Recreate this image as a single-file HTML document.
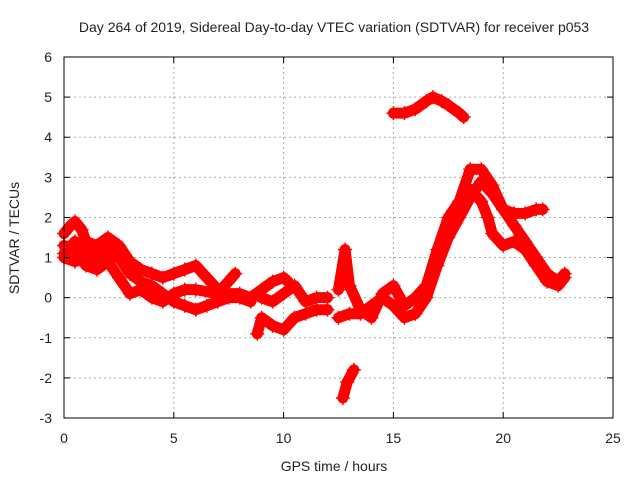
<!DOCTYPE html>
<html><head><meta charset="utf-8"><style>
body{margin:0;background:#fff}
svg text{font-family:"Liberation Sans",sans-serif;font-size:14px;fill:#222}
</style></head><body>
<svg id="chart" width="640" height="480" xmlns="http://www.w3.org/2000/svg">
<rect width="640" height="480" fill="#fff"/>
<text x="334" y="32" text-anchor="middle">Day 264 of 2019, Sidereal Day-to-day VTEC variation (SDTVAR) for receiver p053</text>
<g id="grid"></g>
<g id="series"></g>
<rect x="64" y="57" width="549" height="361" fill="none" stroke="#000" stroke-width="1"/>
<g id="ticks"></g>
<text x="334" y="471" text-anchor="middle">GPS time / hours</text>
<text transform="translate(19,238) rotate(-90)" text-anchor="middle">SDTVAR / TECUs</text>
</svg>
<script>
const xTicks=[0,5,10,15,20,25];
const yTicks=[-3,-2,-1,0,1,2,3,4,5,6];
const trackA_x=[0,0.3,0.5,0.8,1,1.5,2,2.5,3,3.5,4,4.5,5,5.5,6,6.5,7,7.5,8,8.5,9,9.5,10,10.2];
const trackA_y=[1.6,1.8,1.9,1.7,1.4,1.3,1.5,1.3,0.9,0.7,0.6,0.5,0.6,0.7,0.8,0.5,0.2,0.1,0.1,0,0.2,0.4,0.5,0.4];
const trackB_x=[0,0.5,1,1.5,2,2.5,3,3.5,4,4.5,5,5.5,6,6.5,7,7.5,8,8.5];
const trackB_y=[1.0,0.9,1.0,0.9,1.1,1.0,0.6,0.4,0.3,0.1,-0.1,-0.2,-0.3,-0.2,-0.1,0,0,-0.1];
const trackC_x=[0,0.5,1,1.5,2,2.5,3,3.5,4,4.5,5,5.5,6,7,7.8];
const trackC_y=[1.3,1.2,0.8,0.7,0.9,0.5,0.1,0.2,0.0,-0.1,0.1,0.2,0.2,0.1,0.6];
const trackK_x=[0,0.5,1,1.5,2,2.5];
const trackK_y=[1.1,1.4,1.2,1.1,1.3,1.2];
const trackD_x=[8.8,9,9.5,10,10.5,11,11.5,12];
const trackD_y=[-0.9,-0.5,-0.7,-0.8,-0.5,-0.4,-0.3,-0.3];
const trackE_x=[8.8,9,9.5,10,10.5,11,11.5,12];
const trackE_y=[0.1,0,-0.1,0.1,0.3,-0.1,0,0];
const trackF_x=[12.5,13,13.5,14,14.5,15,15.5,16,16.5,17,17.5,18,18.5,19,19.5,20,20.5,21,21.5,21.8];
const trackF_y=[-0.5,-0.4,-0.4,-0.2,0,-0.2,-0.5,-0.4,0,0.8,1.5,2.0,2.5,2.9,2.6,2.2,2.1,2.1,2.2,2.2];
const trackG_x=[12.5,12.8,13,13.5,14,14.5,15,15.5,16,16.5,17,17.5,18,18.5,19,19.5,20,20.5,21,21.5,22,22.5,22.8];
const trackG_y=[0.2,1.2,0.3,-0.3,-0.5,0.1,0.3,-0.2,0,0.3,1.2,2.0,2.4,3.2,3.2,2.8,2.2,1.8,1.4,1.0,0.6,0.4,0.6];
const trackH_x=[18.5,19,19.3,19.5,20,20.5,21,21.5,22,22.5,22.8];
const trackH_y=[2.7,2.4,2.0,1.6,1.3,1.4,1.2,0.8,0.4,0.3,0.5];
const trackI_x=[15,15.5,16,16.5,16.8,17.2,17.5,18,18.2];
const trackI_y=[4.6,4.6,4.7,4.9,5.0,4.9,4.8,4.6,4.5];
const trackJ_x=[12.7,12.9,13.2];
const trackJ_y=[-2.5,-2.1,-1.8];
const tracks=[[trackA_x,trackA_y],[trackB_x,trackB_y],[trackC_x,trackC_y],[trackK_x,trackK_y],[trackD_x,trackD_y],[trackE_x,trackE_y],[trackF_x,trackF_y],[trackG_x,trackG_y],[trackH_x,trackH_y],[trackI_x,trackI_y],[trackJ_x,trackJ_y]];
const X=v=>64+v*549/25;
const Y=v=>418-(v+3)*361/9;
const NS="http://www.w3.org/2000/svg";
const mk=(t,a,p)=>{const e=document.createElementNS(NS,t);for(const k in a)e.setAttribute(k,a[k]);p.appendChild(e);return e;};
const grid=document.getElementById('grid'),ticks=document.getElementById('ticks'),ser=document.getElementById('series');
xTicks.forEach(v=>{
 const g=mk('line',{x1:X(v),x2:X(v),y1:57,y2:418,stroke:'#aaa','stroke-dasharray':'2,3'},grid);
 
 
 mk('line',{x1:X(v),x2:X(v),y1:418,y2:412,stroke:'#000'},ticks);
 mk('line',{x1:X(v),x2:X(v),y1:57,y2:63,stroke:'#000'},ticks);
 const t=mk('text',{x:X(v),y:443,'text-anchor':'middle'},ticks);t.textContent=v;
 
 
});
yTicks.forEach(v=>{
 const g=mk('line',{x1:64,x2:613,y1:Y(v),y2:Y(v),stroke:'#aaa','stroke-dasharray':'2,3'},grid);
 
 
 mk('line',{x1:64,x2:70,y1:Y(v),y2:Y(v),stroke:'#000'},ticks);
 mk('line',{x1:613,x2:607,y1:Y(v),y2:Y(v),stroke:'#000'},ticks);
 const t=mk('text',{x:52,y:Y(v)+5,'text-anchor':'end'},ticks);t.textContent=v;
 
 
});
tracks.forEach(([xs,ys])=>{
 const pts=xs.map((x,i)=>X(x)+','+Y(ys[i])).join(' ');
 const pl=mk('polyline',{points:pts,fill:'none',stroke:'#f00','stroke-width':11,'stroke-linejoin':'round','stroke-linecap':'round'},ser);
 
 
 xs.forEach((x,i)=>{
  const p=mk('path',{d:`M${X(x)-7},${Y(ys[i])}h14M${X(x)},${Y(ys[i])-7}v14`,stroke:'#f00','stroke-width':1.5},ser);
  
  
 });
});
</script>
</body></html>
